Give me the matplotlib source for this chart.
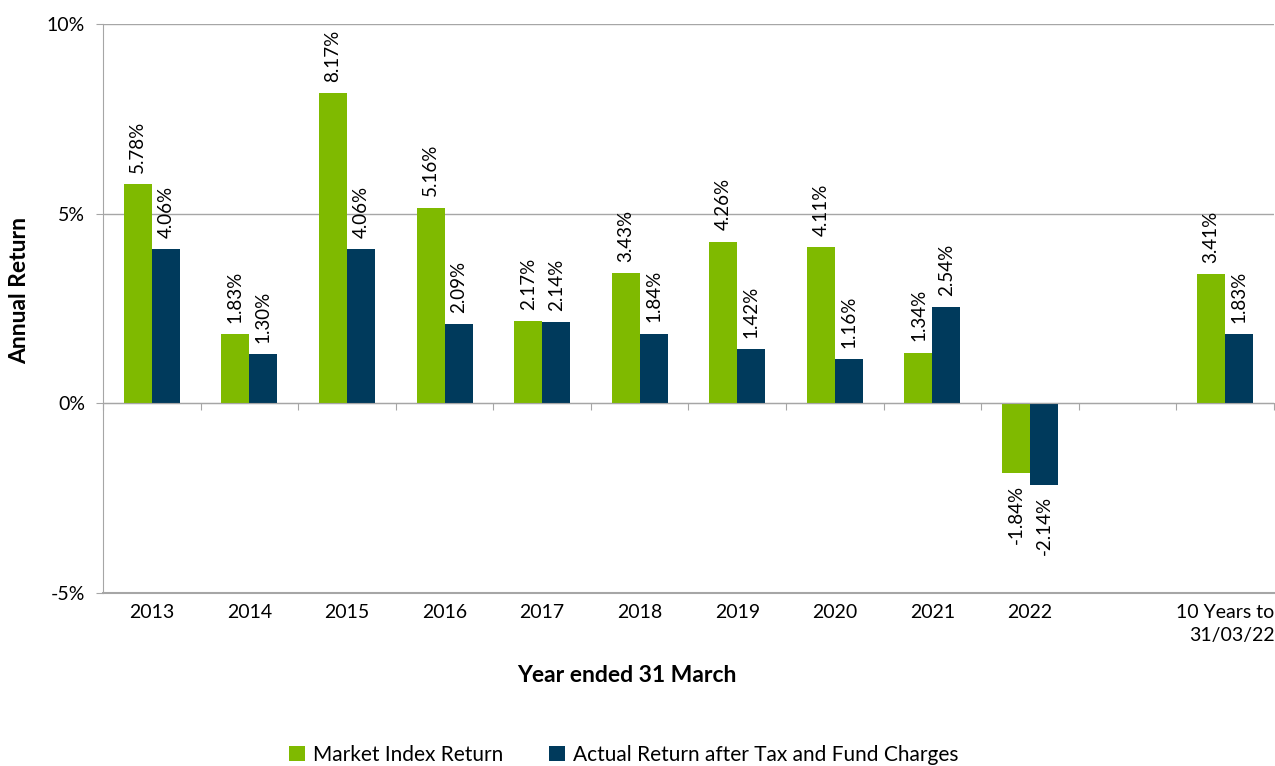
import matplotlib.pyplot as plt
import numpy as np

plt.rcParams['font.family'] = ['Lato', 'DejaVu Sans']

categories = ['2013', '2014', '2015', '2016', '2017', '2018', '2019', '2020',
              '2021', '2022', '', '10 Years to\n31/03/22']
market = [5.78, 1.83, 8.17, 5.16, 2.17, 3.43, 4.26, 4.11, 1.34, -1.84, None, 3.41]
actual = [4.06, 1.30, 4.06, 2.09, 2.14, 1.84, 1.42, 1.16, 2.54, -2.14, None, 1.83]

green = '#7FBA00'
navy = '#003A5C'
grey = '#A6A6A6'

fig = plt.figure(figsize=(12.75, 7.66), dpi=100)
ax = fig.add_axes([103 / 1275, 1 - 593 / 766, 1171 / 1275, 569 / 766])

x = np.arange(len(categories))
w = 0.287
idx = [i for i, v in enumerate(market) if v is not None]
mv = [market[i] for i in idx]
av = [actual[i] for i in idx]
xi = x[idx]

ax.bar(xi - w / 2, mv, w, color=green, label='Market Index Return', zorder=3)
ax.bar(xi + w / 2, av, w, color=navy, label='Actual Return after Tax and Fund Charges', zorder=3)

for xs, vals in ((xi - w / 2, mv), (xi + w / 2, av)):
    for xx, v in zip(xs, vals):
        off = 0.3 if v >= 0 else -0.3
        ax.text(xx, v + off, f'{v:.2f}%', rotation=90, ha='center',
                va='bottom' if v >= 0 else 'top', fontsize=13.5, color='#000000')

ax.set_xlim(-0.5, len(categories) - 0.5)
ax.set_ylim(-5, 10)
ax.set_yticks([-5, 0, 5, 10])
ax.set_yticklabels(['-5%', '0%', '5%', '10%'], fontsize=14)
ax.yaxis.grid(True, color=grey, linewidth=1, zorder=0)
ax.axhline(-5, color=grey, linewidth=1.5, zorder=1, clip_on=False)

# category axis crosses at zero, labels sit low
ax.spines['bottom'].set_position(('data', 0))
ax.spines['bottom'].set_color(grey)
ax.spines['bottom'].set_zorder(4)
ax.set_xticks(np.arange(len(categories) + 1) - 0.5)
ax.set_xticklabels([])
ax.tick_params(axis='x', length=5, color=grey, direction='out')
ax.tick_params(axis='y', length=5, color=grey, direction='out', pad=8)
for spine in ('top', 'right'):
    ax.spines[spine].set_visible(False)
ax.spines['left'].set_color(grey)

for xx, lab in zip(x, categories):
    ax.text(xx, -5.3, lab, ha='center', va='top', fontsize=14,
            multialignment='right', linespacing=1.4)

fig.text(20 / 1275, 1 - 290 / 766, 'Annual Return', rotation=90, ha='center',
         va='center', fontsize=16.5, fontweight='bold')
fig.text(627 / 1275, 1 - 675 / 766, 'Year ended 31 March', ha='center',
         va='center', fontsize=16.5, fontweight='bold')

fig.legend(loc='center', bbox_to_anchor=(624 / 1275, 1 - 755 / 766), ncol=2,
           frameon=False, fontsize=15, handlelength=0.75, handleheight=0.75,
           handletextpad=0.4, columnspacing=2.2)

fig.savefig('out.png', dpi=100)
